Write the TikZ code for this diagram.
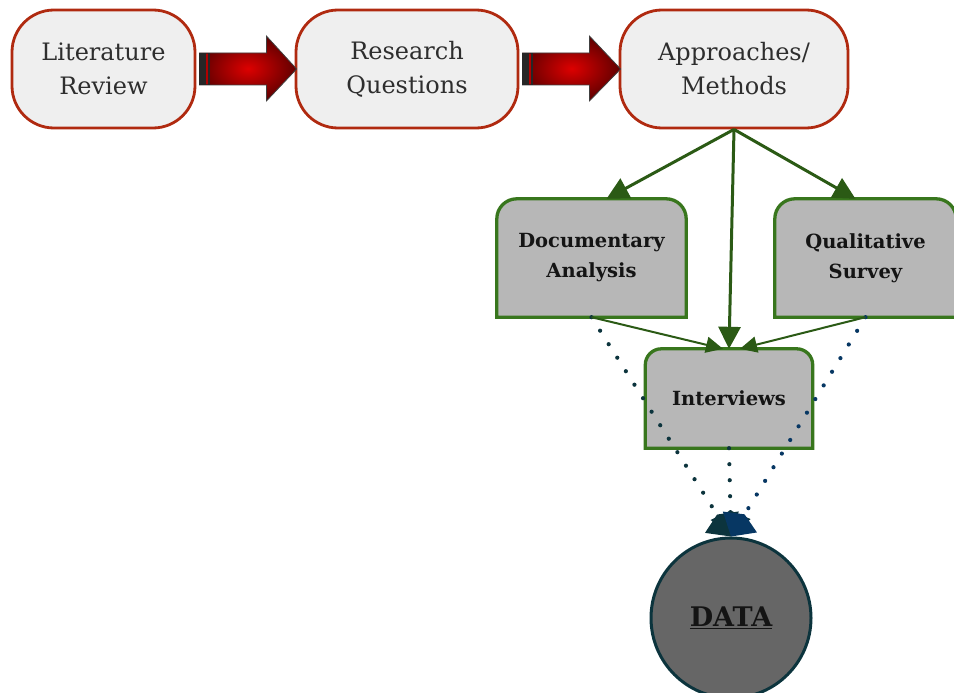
\documentclass[tikz,border=0pt]{standalone}
\usepackage{fontspec}
\setmainfont{DejaVu Serif}
\usetikzlibrary{arrows.meta,calc}

\definecolor{boxred}{HTML}{B02A10}
\definecolor{boxfill}{HTML}{EFEFEF}
\definecolor{grn}{HTML}{38761D}
\definecolor{darkgrn}{HTML}{2B5A15}
\definecolor{gboxfill}{HTML}{B7B7B7}
\definecolor{dotteal}{HTML}{0C343D}
\definecolor{dotblue}{HTML}{073763}
\definecolor{datafill}{HTML}{666666}
\definecolor{arrowred}{HTML}{DD0000}
\definecolor{arrowdark}{HTML}{600000}

\pgfdeclarelayer{background}
\pgfsetlayers{background,main}

% green box with rounded top corners only, traced round a named node
\newcommand{\tabbox}[2]{%
  \begin{pgfonlayer}{background}
  \draw[gbox] (#1.south west) -- ([yshift=-#2]#1.north west)
    arc[start angle=180,end angle=90,radius=#2]
    -- ([xshift=-#2]#1.north east)
    arc[start angle=90,end angle=0,radius=#2]
    -- (#1.south east) -- cycle;
  \end{pgfonlayer}}

\begin{document}
\begin{tikzpicture}[x=1pt,y=-1pt,
  stage/.style={draw=boxred, line width=2.8pt, fill=boxfill, rounded corners=42pt,
    minimum height=118pt, align=center, inner sep=0pt,
    font=\fontsize{24}{34}\selectfont, text=black!82},
  method/.style={align=center, inner sep=0pt, minimum height=118pt,
    font=\bfseries\fontsize{19.5}{30}\selectfont, text=black!92},
  gbox/.style={draw=grn, line width=3.3pt, fill=gboxfill},
  garrow/.style={draw=darkgrn, line width=3pt, -{Triangle[length=22pt,width=22pt]}},
  tarrow/.style={draw=darkgrn, line width=2pt, -{Triangle[length=17pt,width=16pt]}},
  dotline/.style={draw=#1, line width=4.2pt, line cap=round,
    dash pattern=on 0pt off 16pt,
    -{Kite[length=26pt,width=40pt,inset=9pt,fill=#1,line width=0pt]}},
  redarrow/.style={shading=radial, inner color=arrowred, outer color=arrowdark,
    draw=black!75, line width=0.8pt}
]
\useasboundingbox (0,0) rectangle (954,693);

% stages of the study
\node[stage, minimum width=183pt] (lit) at (103.5,69) {Literature\\Review};
\node[stage, minimum width=222pt] (rq)  at (407,69)   {Research\\Questions};
\node[stage, minimum width=228pt] (am)  at (734,69)   {Approaches/\\Methods};

% block arrows between the stages
\foreach \a/\b in {lit/rq, rq/am} {
  \shadedraw[redarrow]
    ($(\a.east)+(3,-16)$) -- ($(\a.east)+(70,-16)$) -- ($(\a.east)+(70,-33)$)
    -- ($(\b.west)+(2,0)$)
    -- ($(\a.east)+(70,32)$) -- ($(\a.east)+(70,16)$) -- ($(\a.east)+(3,16)$) -- cycle;
  \fill[black!85] ($(\a.east)+(3,-16)$) rectangle ($(\a.east)+(10,16)$);
  \fill[arrowred!80!black] ($(\a.east)+(10,-15)$) rectangle ($(\a.east)+(11.5,15)$);
  \fill[black!85] ($(\a.east)+(11.5,-16)$) rectangle ($(\a.east)+(14,16)$);
}

% methods
\node[method, minimum width=189pt] (doc)  at (591.5,258) {Documentary\\Analysis};
\node[method, minimum width=181pt] (qual) at (865.5,258) {Qualitative\\Survey};
\node[method, minimum width=167pt, minimum height=99pt] (int) at (729,398.5) {Interviews};
\tabbox{doc}{20pt}
\tabbox{qual}{20pt}
\tabbox{int}{16pt}

% outcome
\node[circle, draw=dotteal, line width=3pt, fill=datafill, minimum size=160pt,
  inner sep=0pt, font=\bfseries\fontsize{27}{30}\selectfont, text=black!92]
  (data) at (731,618) {\underline{DATA}};

% dotted flows into the data
\draw[dotline=dotteal] (doc.south) -- (data.north);
\draw[dotline=dotteal] (int.south) -- (data.north);
\draw[dotline=dotblue] (qual.south) -- (data.north);

% approaches to methods
\draw[garrow] (am.south) -- ([xshift=15pt]doc.north);
\draw[garrow] (am.south) -- ([xshift=-10pt]qual.north);
\draw[garrow] (am.south) -- (int.north);
\draw[tarrow] (doc.south) -- ([xshift=-6pt]int.north);
\draw[tarrow] (qual.south) -- ([xshift=11pt]int.north);
\end{tikzpicture}
\end{document}
